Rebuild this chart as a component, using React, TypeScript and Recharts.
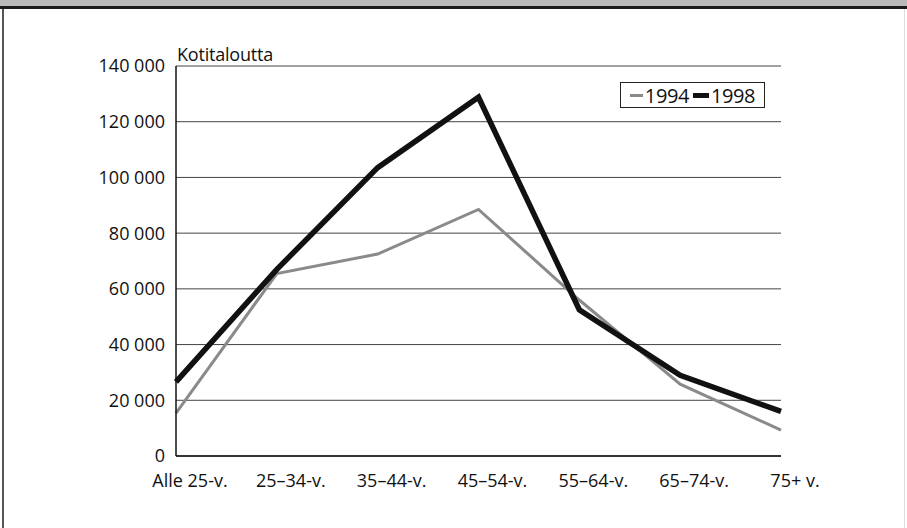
import React from "react";
import { CartesianGrid, Line, LineChart, XAxis, YAxis } from "recharts";

const ageGroups = ["Alle 25-v.", "25–34-v.", "35–44-v.", "45–54-v.", "55–64-v.", "65–74-v.", "75+ v."];
const households1994 = [15400, 65500, 72500, 88500, 56000, 25800, 9300];
const households1998 = [26600, 67000, 103500, 128800, 52500, 29000, 16000];
const yTicks = [0, 20000, 40000, 60000, 80000, 100000, 120000, 140000];

const data = ageGroups.map((g, i) => ({ group: g, y1994: households1994[i], y1998: households1998[i] }));

const FONT = "'Open Sans', sans-serif";
const fmt = (v: number) => (v === 0 ? "0" : v.toLocaleString("en-US").replace(/,/g, " "));

// legend drawn as a plain box, it sits inside the plot top right
function LegendBox() {
  return (
    <div
      style={{
        position: "absolute",
        left: 620,
        top: 82,
        width: 145,
        height: 26,
        border: "1px solid #222",
        background: "#fff",
        display: "flex",
        alignItems: "center",
        justifyContent: "center",
        fontFamily: FONT,
        fontSize: 20,
        color: "#111",
        boxSizing: "border-box",
        letterSpacing: -0.4,
      }}
    >
      <span style={{ display: "inline-block", width: 13, height: 3, background: "#8a8a8a", marginRight: 2 }} />
      <span>1994</span>
      <span style={{ display: "inline-block", width: 16, height: 5, background: "#111", margin: "0 2px 0 4px" }} />
      <span>1998</span>
    </div>
  );
}

export default function App() {
  return (
    <div style={{ position: "absolute", left: 0, top: 0, width: 907, height: 528, background: "#fff", overflow: "hidden" }}>
      {/* top band and frame */}
      <div style={{ position: "absolute", left: 0, top: 0, width: 907, height: 6, background: "#b9b9b9" }} />
      <div style={{ position: "absolute", left: 0, top: 6, width: 907, height: 3, background: "#1a1a1a" }} />
      <div style={{ position: "absolute", left: 2, top: 9, width: 2, height: 519, background: "#555" }} />
      <div style={{ position: "absolute", left: 904, top: 9, width: 1, height: 519, background: "#ddd" }} />
      <div
        style={{
          position: "absolute",
          left: 177,
          top: 42,
          fontFamily: FONT,
          fontSize: 18,
          color: "#111",
          letterSpacing: -0.2,
        }}
      >
        Kotitaloutta
      </div>
      <LineChart
        width={907}
        height={528}
        data={data}
        margin={{ top: 66, right: 126, bottom: 42, left: 96 }}
        style={{ position: "absolute", left: 0, top: 0 }}
      >
        <CartesianGrid yAxisId="left" horizontal vertical={false} stroke="#444" strokeWidth={1} />
        <XAxis
          dataKey="group"
          interval={0}
          axisLine={{ stroke: "#111", strokeWidth: 1.5 }}
          tickLine={false}
          tickMargin={12}
          height={30}
          tick={{ fontSize: 18, fill: "#111", fontFamily: FONT, dx: 14 }}
        />
        <YAxis
          yAxisId="left"
          domain={[0, 140000]}
          ticks={yTicks}
          width={80}
          tickFormatter={fmt}
          axisLine={{ stroke: "#111", strokeWidth: 1.5 }}
          tickLine={false}
          tickMargin={5}
          tick={{ fontSize: 18, fill: "#111", fontFamily: FONT }}
        />
        <YAxis
          yAxisId="right"
          orientation="right"
          domain={[0, 140000]}
          ticks={yTicks}
          width={0}
          tick={false}
          tickLine={false}
          axisLine={{ stroke: "#111", strokeWidth: 1.5 }}
        />
        <Line
          yAxisId="left"
          type="linear"
          dataKey="y1994"
          name="1994"
          stroke="#8a8a8a"
          strokeWidth={3}
          dot={false}
          isAnimationActive={false}
        />
        <Line
          yAxisId="left"
          type="linear"
          dataKey="y1998"
          name="1998"
          stroke="#111"
          strokeWidth={5.5}
          dot={false}
          isAnimationActive={false}
        />
      </LineChart>
      <LegendBox />
    </div>
  );
}
